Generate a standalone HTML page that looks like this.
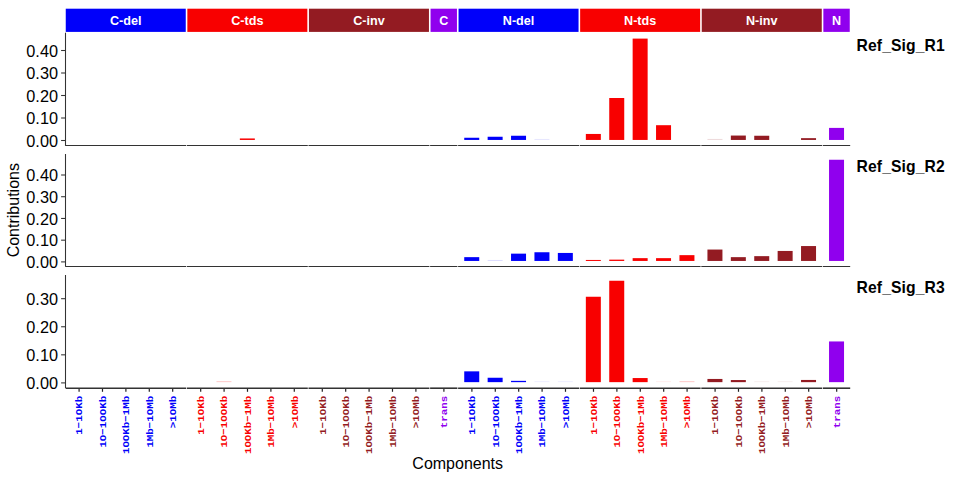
<!DOCTYPE html><html><head><meta charset="utf-8"><style>html,body{margin:0;padding:0;background:#fff;}svg{display:block}</style></head><body>
<svg width="960" height="480" viewBox="0 0 960 480">
<rect x="0" y="0" width="960" height="480" fill="#fff"/>
<rect x="65.75" y="8.7" width="120.00" height="23.2" fill="#0000FA"/>
<text x="0" y="0" transform="translate(125.75 25.05) scale(0.94 1)" fill="#fff" font-family="Liberation Sans" font-weight="bold" font-size="13.4" text-anchor="middle">C-del</text>
<rect x="187.35" y="8.7" width="120.00" height="23.2" fill="#F80000"/>
<text x="0" y="0" transform="translate(247.35 25.05) scale(0.94 1)" fill="#fff" font-family="Liberation Sans" font-weight="bold" font-size="13.4" text-anchor="middle">C-tds</text>
<rect x="308.95" y="8.7" width="120.00" height="23.2" fill="#931B22"/>
<text x="0" y="0" transform="translate(368.95 25.05) scale(0.94 1)" fill="#fff" font-family="Liberation Sans" font-weight="bold" font-size="13.4" text-anchor="middle">C-inv</text>
<rect x="430.55" y="8.7" width="26.40" height="23.2" fill="#9000EE"/>
<text x="0" y="0" transform="translate(443.75 25.05) scale(0.94 1)" fill="#fff" font-family="Liberation Sans" font-weight="bold" font-size="13.4" text-anchor="middle">C</text>
<rect x="458.55" y="8.7" width="120.00" height="23.2" fill="#0000FA"/>
<text x="0" y="0" transform="translate(518.55 25.05) scale(0.94 1)" fill="#fff" font-family="Liberation Sans" font-weight="bold" font-size="13.4" text-anchor="middle">N-del</text>
<rect x="580.15" y="8.7" width="120.00" height="23.2" fill="#F80000"/>
<text x="0" y="0" transform="translate(640.15 25.05) scale(0.94 1)" fill="#fff" font-family="Liberation Sans" font-weight="bold" font-size="13.4" text-anchor="middle">N-tds</text>
<rect x="701.75" y="8.7" width="120.00" height="23.2" fill="#931B22"/>
<text x="0" y="0" transform="translate(761.75 25.05) scale(0.94 1)" fill="#fff" font-family="Liberation Sans" font-weight="bold" font-size="13.4" text-anchor="middle">N-inv</text>
<rect x="823.35" y="8.7" width="26.40" height="23.2" fill="#9000EE"/>
<text x="0" y="0" transform="translate(836.55 25.05) scale(0.94 1)" fill="#fff" font-family="Liberation Sans" font-weight="bold" font-size="13.4" text-anchor="middle">N</text>
<rect x="239.84" y="138.45" width="15.0" height="1.50" fill="#F80000" fill-opacity="1.00"/>
<rect x="464.24" y="137.75" width="15.0" height="2.20" fill="#0000FA" fill-opacity="1.00"/>
<rect x="487.64" y="136.75" width="15.0" height="3.20" fill="#0000FA" fill-opacity="1.00"/>
<rect x="511.04" y="135.75" width="15.0" height="4.20" fill="#0000FA" fill-opacity="1.00"/>
<rect x="534.44" y="138.95" width="15.0" height="1.00" fill="#0000FA" fill-opacity="0.10"/>
<rect x="585.84" y="133.95" width="15.0" height="6.00" fill="#F80000" fill-opacity="1.00"/>
<rect x="609.24" y="98.00" width="15.0" height="41.95" fill="#F80000" fill-opacity="1.00"/>
<rect x="632.64" y="38.60" width="15.0" height="101.35" fill="#F80000" fill-opacity="1.00"/>
<rect x="656.04" y="125.20" width="15.0" height="14.75" fill="#F80000" fill-opacity="1.00"/>
<rect x="707.44" y="138.95" width="15.0" height="1.00" fill="#931B22" fill-opacity="0.17"/>
<rect x="730.84" y="135.55" width="15.0" height="4.40" fill="#931B22" fill-opacity="1.00"/>
<rect x="754.24" y="135.75" width="15.0" height="4.20" fill="#931B22" fill-opacity="1.00"/>
<rect x="801.04" y="138.15" width="15.0" height="1.80" fill="#931B22" fill-opacity="1.00"/>
<rect x="829.04" y="127.90" width="15.0" height="12.05" fill="#9000EE" fill-opacity="1.00"/>
<line x1="65.60" y1="145.50" x2="186.20" y2="145.50" stroke="#333" stroke-width="1.0"/>
<line x1="186.90" y1="145.50" x2="307.80" y2="145.50" stroke="#333" stroke-width="1.0"/>
<line x1="308.50" y1="145.50" x2="429.40" y2="145.50" stroke="#333" stroke-width="1.0"/>
<line x1="430.10" y1="145.50" x2="457.40" y2="145.50" stroke="#333" stroke-width="1.0"/>
<line x1="458.10" y1="145.50" x2="579.00" y2="145.50" stroke="#333" stroke-width="1.0"/>
<line x1="579.70" y1="145.50" x2="700.60" y2="145.50" stroke="#333" stroke-width="1.0"/>
<line x1="701.30" y1="145.50" x2="822.20" y2="145.50" stroke="#333" stroke-width="1.0"/>
<line x1="822.90" y1="145.50" x2="850.20" y2="145.50" stroke="#333" stroke-width="1.0"/>
<line x1="65.5" y1="32.70" x2="65.5" y2="145.90" stroke="#333" stroke-width="1.07"/>
<line x1="61.1" y1="140.50" x2="65.5" y2="140.50" stroke="#333" stroke-width="1.07"/>
<text x="58" y="146.80" fill="#000" font-family="Liberation Sans" font-size="16.3" text-anchor="end">0.00</text>
<line x1="61.1" y1="118.00" x2="65.5" y2="118.00" stroke="#333" stroke-width="1.07"/>
<text x="58" y="124.30" fill="#000" font-family="Liberation Sans" font-size="16.3" text-anchor="end">0.10</text>
<line x1="61.1" y1="95.50" x2="65.5" y2="95.50" stroke="#333" stroke-width="1.07"/>
<text x="58" y="101.80" fill="#000" font-family="Liberation Sans" font-size="16.3" text-anchor="end">0.20</text>
<line x1="61.1" y1="73.00" x2="65.5" y2="73.00" stroke="#333" stroke-width="1.07"/>
<text x="58" y="79.30" fill="#000" font-family="Liberation Sans" font-size="16.3" text-anchor="end">0.30</text>
<line x1="61.1" y1="50.50" x2="65.5" y2="50.50" stroke="#333" stroke-width="1.07"/>
<text x="58" y="56.80" fill="#000" font-family="Liberation Sans" font-size="16.3" text-anchor="end">0.40</text>
<text x="856.6" y="50.90" fill="#000" font-family="Liberation Sans" font-weight="bold" font-size="15.7" letter-spacing="0.1">Ref_Sig_R1</text>
<rect x="464.24" y="257.15" width="15.0" height="3.80" fill="#0000FA" fill-opacity="1.00"/>
<rect x="487.64" y="259.95" width="15.0" height="1.00" fill="#0000FA" fill-opacity="0.14"/>
<rect x="511.04" y="253.65" width="15.0" height="7.30" fill="#0000FA" fill-opacity="1.00"/>
<rect x="534.44" y="252.25" width="15.0" height="8.70" fill="#0000FA" fill-opacity="1.00"/>
<rect x="557.84" y="252.95" width="15.0" height="8.00" fill="#0000FA" fill-opacity="1.00"/>
<rect x="585.84" y="259.95" width="15.0" height="1.00" fill="#F80000" fill-opacity="1.00"/>
<rect x="609.24" y="259.65" width="15.0" height="1.30" fill="#F80000" fill-opacity="1.00"/>
<rect x="632.64" y="258.15" width="15.0" height="2.80" fill="#F80000" fill-opacity="1.00"/>
<rect x="656.04" y="258.15" width="15.0" height="2.80" fill="#F80000" fill-opacity="1.00"/>
<rect x="679.44" y="255.15" width="15.0" height="5.80" fill="#F80000" fill-opacity="1.00"/>
<rect x="707.44" y="249.55" width="15.0" height="11.40" fill="#931B22" fill-opacity="1.00"/>
<rect x="730.84" y="257.15" width="15.0" height="3.80" fill="#931B22" fill-opacity="1.00"/>
<rect x="754.24" y="256.15" width="15.0" height="4.80" fill="#931B22" fill-opacity="1.00"/>
<rect x="777.64" y="250.95" width="15.0" height="10.00" fill="#931B22" fill-opacity="1.00"/>
<rect x="801.04" y="246.05" width="15.0" height="14.90" fill="#931B22" fill-opacity="1.00"/>
<rect x="829.04" y="159.75" width="15.0" height="101.20" fill="#9000EE" fill-opacity="1.00"/>
<line x1="65.60" y1="266.50" x2="186.20" y2="266.50" stroke="#333" stroke-width="1.0"/>
<line x1="186.90" y1="266.50" x2="307.80" y2="266.50" stroke="#333" stroke-width="1.0"/>
<line x1="308.50" y1="266.50" x2="429.40" y2="266.50" stroke="#333" stroke-width="1.0"/>
<line x1="430.10" y1="266.50" x2="457.40" y2="266.50" stroke="#333" stroke-width="1.0"/>
<line x1="458.10" y1="266.50" x2="579.00" y2="266.50" stroke="#333" stroke-width="1.0"/>
<line x1="579.70" y1="266.50" x2="700.60" y2="266.50" stroke="#333" stroke-width="1.0"/>
<line x1="701.30" y1="266.50" x2="822.20" y2="266.50" stroke="#333" stroke-width="1.0"/>
<line x1="822.90" y1="266.50" x2="850.20" y2="266.50" stroke="#333" stroke-width="1.0"/>
<line x1="65.5" y1="154.00" x2="65.5" y2="266.80" stroke="#333" stroke-width="1.07"/>
<line x1="61.1" y1="261.90" x2="65.5" y2="261.90" stroke="#333" stroke-width="1.07"/>
<text x="58" y="268.20" fill="#000" font-family="Liberation Sans" font-size="16.3" text-anchor="end">0.00</text>
<line x1="61.1" y1="240.17" x2="65.5" y2="240.17" stroke="#333" stroke-width="1.07"/>
<text x="58" y="246.47" fill="#000" font-family="Liberation Sans" font-size="16.3" text-anchor="end">0.10</text>
<line x1="61.1" y1="218.45" x2="65.5" y2="218.45" stroke="#333" stroke-width="1.07"/>
<text x="58" y="224.75" fill="#000" font-family="Liberation Sans" font-size="16.3" text-anchor="end">0.20</text>
<line x1="61.1" y1="196.72" x2="65.5" y2="196.72" stroke="#333" stroke-width="1.07"/>
<text x="58" y="203.02" fill="#000" font-family="Liberation Sans" font-size="16.3" text-anchor="end">0.30</text>
<line x1="61.1" y1="175.00" x2="65.5" y2="175.00" stroke="#333" stroke-width="1.07"/>
<text x="58" y="181.30" fill="#000" font-family="Liberation Sans" font-size="16.3" text-anchor="end">0.40</text>
<text x="856.6" y="171.80" fill="#000" font-family="Liberation Sans" font-weight="bold" font-size="15.7" letter-spacing="0.1">Ref_Sig_R2</text>
<rect x="216.44" y="381.15" width="15.0" height="1.00" fill="#F80000" fill-opacity="0.21"/>
<rect x="464.24" y="371.35" width="15.0" height="10.80" fill="#0000FA" fill-opacity="1.00"/>
<rect x="487.64" y="377.75" width="15.0" height="4.40" fill="#0000FA" fill-opacity="1.00"/>
<rect x="511.04" y="380.85" width="15.0" height="1.30" fill="#0000FA" fill-opacity="1.00"/>
<rect x="534.44" y="381.15" width="15.0" height="1.00" fill="#0000FA" fill-opacity="0.07"/>
<rect x="557.84" y="381.15" width="15.0" height="1.00" fill="#0000FA" fill-opacity="0.07"/>
<rect x="585.84" y="296.75" width="15.0" height="85.40" fill="#F80000" fill-opacity="1.00"/>
<rect x="609.24" y="280.75" width="15.0" height="101.40" fill="#F80000" fill-opacity="1.00"/>
<rect x="632.64" y="378.05" width="15.0" height="4.10" fill="#F80000" fill-opacity="1.00"/>
<rect x="656.04" y="381.15" width="15.0" height="1.00" fill="#F80000" fill-opacity="0.07"/>
<rect x="679.44" y="381.15" width="15.0" height="1.00" fill="#F80000" fill-opacity="0.21"/>
<rect x="707.44" y="378.95" width="15.0" height="3.20" fill="#931B22" fill-opacity="1.00"/>
<rect x="730.84" y="380.05" width="15.0" height="2.10" fill="#931B22" fill-opacity="1.00"/>
<rect x="754.24" y="381.15" width="15.0" height="1.00" fill="#931B22" fill-opacity="0.07"/>
<rect x="777.64" y="381.15" width="15.0" height="1.00" fill="#931B22" fill-opacity="0.07"/>
<rect x="801.04" y="379.95" width="15.0" height="2.20" fill="#931B22" fill-opacity="1.00"/>
<rect x="829.04" y="341.45" width="15.0" height="40.70" fill="#9000EE" fill-opacity="1.00"/>
<line x1="65.60" y1="388.20" x2="186.20" y2="388.20" stroke="#333" stroke-width="1.6"/>
<line x1="186.90" y1="388.20" x2="307.80" y2="388.20" stroke="#333" stroke-width="1.6"/>
<line x1="308.50" y1="388.20" x2="429.40" y2="388.20" stroke="#333" stroke-width="1.6"/>
<line x1="430.10" y1="388.20" x2="457.40" y2="388.20" stroke="#333" stroke-width="1.6"/>
<line x1="458.10" y1="388.20" x2="579.00" y2="388.20" stroke="#333" stroke-width="1.6"/>
<line x1="579.70" y1="388.20" x2="700.60" y2="388.20" stroke="#333" stroke-width="1.6"/>
<line x1="701.30" y1="388.20" x2="822.20" y2="388.20" stroke="#333" stroke-width="1.6"/>
<line x1="822.90" y1="388.20" x2="850.20" y2="388.20" stroke="#333" stroke-width="1.6"/>
<line x1="65.5" y1="275.00" x2="65.5" y2="388.00" stroke="#333" stroke-width="1.07"/>
<line x1="61.1" y1="382.90" x2="65.5" y2="382.90" stroke="#333" stroke-width="1.07"/>
<text x="58" y="389.20" fill="#000" font-family="Liberation Sans" font-size="16.3" text-anchor="end">0.00</text>
<line x1="61.1" y1="354.83" x2="65.5" y2="354.83" stroke="#333" stroke-width="1.07"/>
<text x="58" y="361.13" fill="#000" font-family="Liberation Sans" font-size="16.3" text-anchor="end">0.10</text>
<line x1="61.1" y1="326.76" x2="65.5" y2="326.76" stroke="#333" stroke-width="1.07"/>
<text x="58" y="333.06" fill="#000" font-family="Liberation Sans" font-size="16.3" text-anchor="end">0.20</text>
<line x1="61.1" y1="298.69" x2="65.5" y2="298.69" stroke="#333" stroke-width="1.07"/>
<text x="58" y="304.99" fill="#000" font-family="Liberation Sans" font-size="16.3" text-anchor="end">0.30</text>
<text x="856.6" y="292.70" fill="#000" font-family="Liberation Sans" font-weight="bold" font-size="15.7" letter-spacing="0.1">Ref_Sig_R3</text>
<line x1="79.09" y1="388.9" x2="79.09" y2="391.8" stroke="#222" stroke-width="1.2"/>
<text x="0" y="0" transform="translate(82.34 395.8) rotate(-90) scale(1 0.9)" fill="#0000FA" font-family="Liberation Mono" font-weight="bold" font-size="10.8" text-anchor="end" stroke="#fff" stroke-width="0.0">1−1OKb</text>
<line x1="102.49" y1="388.9" x2="102.49" y2="391.8" stroke="#222" stroke-width="1.2"/>
<text x="0" y="0" transform="translate(105.74 395.8) rotate(-90) scale(1 0.9)" fill="#0000FA" font-family="Liberation Mono" font-weight="bold" font-size="10.8" text-anchor="end" stroke="#fff" stroke-width="0.0">1O−1OOKb</text>
<line x1="125.89" y1="388.9" x2="125.89" y2="391.8" stroke="#222" stroke-width="1.2"/>
<text x="0" y="0" transform="translate(129.14 395.8) rotate(-90) scale(1 0.9)" fill="#0000FA" font-family="Liberation Mono" font-weight="bold" font-size="10.8" text-anchor="end" stroke="#fff" stroke-width="0.0">1OOKb−1Mb</text>
<line x1="149.29" y1="388.9" x2="149.29" y2="391.8" stroke="#222" stroke-width="1.2"/>
<text x="0" y="0" transform="translate(152.54 395.8) rotate(-90) scale(1 0.9)" fill="#0000FA" font-family="Liberation Mono" font-weight="bold" font-size="10.8" text-anchor="end" stroke="#fff" stroke-width="0.0">1Mb−1OMb</text>
<line x1="172.69" y1="388.9" x2="172.69" y2="391.8" stroke="#222" stroke-width="1.2"/>
<text x="0" y="0" transform="translate(175.94 395.8) rotate(-90) scale(1 0.9)" fill="#0000FA" font-family="Liberation Mono" font-weight="bold" font-size="10.8" text-anchor="end" stroke="#fff" stroke-width="0.0">&gt;1OMb</text>
<line x1="200.69" y1="388.9" x2="200.69" y2="391.8" stroke="#222" stroke-width="1.2"/>
<text x="0" y="0" transform="translate(203.94 395.8) rotate(-90) scale(1 0.9)" fill="#F80000" font-family="Liberation Mono" font-weight="bold" font-size="10.8" text-anchor="end" stroke="#fff" stroke-width="0.0">1−1OKb</text>
<line x1="224.09" y1="388.9" x2="224.09" y2="391.8" stroke="#222" stroke-width="1.2"/>
<text x="0" y="0" transform="translate(227.34 395.8) rotate(-90) scale(1 0.9)" fill="#F80000" font-family="Liberation Mono" font-weight="bold" font-size="10.8" text-anchor="end" stroke="#fff" stroke-width="0.0">1O−1OOKb</text>
<line x1="247.49" y1="388.9" x2="247.49" y2="391.8" stroke="#222" stroke-width="1.2"/>
<text x="0" y="0" transform="translate(250.74 395.8) rotate(-90) scale(1 0.9)" fill="#F80000" font-family="Liberation Mono" font-weight="bold" font-size="10.8" text-anchor="end" stroke="#fff" stroke-width="0.0">1OOKb−1Mb</text>
<line x1="270.89" y1="388.9" x2="270.89" y2="391.8" stroke="#222" stroke-width="1.2"/>
<text x="0" y="0" transform="translate(274.14 395.8) rotate(-90) scale(1 0.9)" fill="#F80000" font-family="Liberation Mono" font-weight="bold" font-size="10.8" text-anchor="end" stroke="#fff" stroke-width="0.0">1Mb−1OMb</text>
<line x1="294.29" y1="388.9" x2="294.29" y2="391.8" stroke="#222" stroke-width="1.2"/>
<text x="0" y="0" transform="translate(297.54 395.8) rotate(-90) scale(1 0.9)" fill="#F80000" font-family="Liberation Mono" font-weight="bold" font-size="10.8" text-anchor="end" stroke="#fff" stroke-width="0.0">&gt;1OMb</text>
<line x1="322.29" y1="388.9" x2="322.29" y2="391.8" stroke="#222" stroke-width="1.2"/>
<text x="0" y="0" transform="translate(325.54 395.8) rotate(-90) scale(1 0.9)" fill="#931B22" font-family="Liberation Mono" font-weight="bold" font-size="10.8" text-anchor="end" stroke="#fff" stroke-width="0.0">1−1OKb</text>
<line x1="345.69" y1="388.9" x2="345.69" y2="391.8" stroke="#222" stroke-width="1.2"/>
<text x="0" y="0" transform="translate(348.94 395.8) rotate(-90) scale(1 0.9)" fill="#931B22" font-family="Liberation Mono" font-weight="bold" font-size="10.8" text-anchor="end" stroke="#fff" stroke-width="0.0">1O−1OOKb</text>
<line x1="369.09" y1="388.9" x2="369.09" y2="391.8" stroke="#222" stroke-width="1.2"/>
<text x="0" y="0" transform="translate(372.34 395.8) rotate(-90) scale(1 0.9)" fill="#931B22" font-family="Liberation Mono" font-weight="bold" font-size="10.8" text-anchor="end" stroke="#fff" stroke-width="0.0">1OOKb−1Mb</text>
<line x1="392.49" y1="388.9" x2="392.49" y2="391.8" stroke="#222" stroke-width="1.2"/>
<text x="0" y="0" transform="translate(395.74 395.8) rotate(-90) scale(1 0.9)" fill="#931B22" font-family="Liberation Mono" font-weight="bold" font-size="10.8" text-anchor="end" stroke="#fff" stroke-width="0.0">1Mb−1OMb</text>
<line x1="415.89" y1="388.9" x2="415.89" y2="391.8" stroke="#222" stroke-width="1.2"/>
<text x="0" y="0" transform="translate(419.14 395.8) rotate(-90) scale(1 0.9)" fill="#931B22" font-family="Liberation Mono" font-weight="bold" font-size="10.8" text-anchor="end" stroke="#fff" stroke-width="0.0">&gt;1OMb</text>
<line x1="443.89" y1="388.9" x2="443.89" y2="391.8" stroke="#222" stroke-width="1.2"/>
<text x="0" y="0" transform="translate(447.14 395.8) rotate(-90) scale(1 0.9)" fill="#9000EE" font-family="Liberation Mono" font-weight="bold" font-size="10.8" text-anchor="end" stroke="#fff" stroke-width="0.0">trans</text>
<line x1="471.89" y1="388.9" x2="471.89" y2="391.8" stroke="#222" stroke-width="1.2"/>
<text x="0" y="0" transform="translate(475.14 395.8) rotate(-90) scale(1 0.9)" fill="#0000FA" font-family="Liberation Mono" font-weight="bold" font-size="10.8" text-anchor="end" stroke="#fff" stroke-width="0.0">1−1OKb</text>
<line x1="495.29" y1="388.9" x2="495.29" y2="391.8" stroke="#222" stroke-width="1.2"/>
<text x="0" y="0" transform="translate(498.54 395.8) rotate(-90) scale(1 0.9)" fill="#0000FA" font-family="Liberation Mono" font-weight="bold" font-size="10.8" text-anchor="end" stroke="#fff" stroke-width="0.0">1O−1OOKb</text>
<line x1="518.69" y1="388.9" x2="518.69" y2="391.8" stroke="#222" stroke-width="1.2"/>
<text x="0" y="0" transform="translate(521.94 395.8) rotate(-90) scale(1 0.9)" fill="#0000FA" font-family="Liberation Mono" font-weight="bold" font-size="10.8" text-anchor="end" stroke="#fff" stroke-width="0.0">1OOKb−1Mb</text>
<line x1="542.09" y1="388.9" x2="542.09" y2="391.8" stroke="#222" stroke-width="1.2"/>
<text x="0" y="0" transform="translate(545.34 395.8) rotate(-90) scale(1 0.9)" fill="#0000FA" font-family="Liberation Mono" font-weight="bold" font-size="10.8" text-anchor="end" stroke="#fff" stroke-width="0.0">1Mb−1OMb</text>
<line x1="565.49" y1="388.9" x2="565.49" y2="391.8" stroke="#222" stroke-width="1.2"/>
<text x="0" y="0" transform="translate(568.74 395.8) rotate(-90) scale(1 0.9)" fill="#0000FA" font-family="Liberation Mono" font-weight="bold" font-size="10.8" text-anchor="end" stroke="#fff" stroke-width="0.0">&gt;1OMb</text>
<line x1="593.49" y1="388.9" x2="593.49" y2="391.8" stroke="#222" stroke-width="1.2"/>
<text x="0" y="0" transform="translate(596.74 395.8) rotate(-90) scale(1 0.9)" fill="#F80000" font-family="Liberation Mono" font-weight="bold" font-size="10.8" text-anchor="end" stroke="#fff" stroke-width="0.0">1−1OKb</text>
<line x1="616.89" y1="388.9" x2="616.89" y2="391.8" stroke="#222" stroke-width="1.2"/>
<text x="0" y="0" transform="translate(620.14 395.8) rotate(-90) scale(1 0.9)" fill="#F80000" font-family="Liberation Mono" font-weight="bold" font-size="10.8" text-anchor="end" stroke="#fff" stroke-width="0.0">1O−1OOKb</text>
<line x1="640.29" y1="388.9" x2="640.29" y2="391.8" stroke="#222" stroke-width="1.2"/>
<text x="0" y="0" transform="translate(643.54 395.8) rotate(-90) scale(1 0.9)" fill="#F80000" font-family="Liberation Mono" font-weight="bold" font-size="10.8" text-anchor="end" stroke="#fff" stroke-width="0.0">1OOKb−1Mb</text>
<line x1="663.69" y1="388.9" x2="663.69" y2="391.8" stroke="#222" stroke-width="1.2"/>
<text x="0" y="0" transform="translate(666.94 395.8) rotate(-90) scale(1 0.9)" fill="#F80000" font-family="Liberation Mono" font-weight="bold" font-size="10.8" text-anchor="end" stroke="#fff" stroke-width="0.0">1Mb−1OMb</text>
<line x1="687.09" y1="388.9" x2="687.09" y2="391.8" stroke="#222" stroke-width="1.2"/>
<text x="0" y="0" transform="translate(690.34 395.8) rotate(-90) scale(1 0.9)" fill="#F80000" font-family="Liberation Mono" font-weight="bold" font-size="10.8" text-anchor="end" stroke="#fff" stroke-width="0.0">&gt;1OMb</text>
<line x1="715.09" y1="388.9" x2="715.09" y2="391.8" stroke="#222" stroke-width="1.2"/>
<text x="0" y="0" transform="translate(718.34 395.8) rotate(-90) scale(1 0.9)" fill="#931B22" font-family="Liberation Mono" font-weight="bold" font-size="10.8" text-anchor="end" stroke="#fff" stroke-width="0.0">1−1OKb</text>
<line x1="738.49" y1="388.9" x2="738.49" y2="391.8" stroke="#222" stroke-width="1.2"/>
<text x="0" y="0" transform="translate(741.74 395.8) rotate(-90) scale(1 0.9)" fill="#931B22" font-family="Liberation Mono" font-weight="bold" font-size="10.8" text-anchor="end" stroke="#fff" stroke-width="0.0">1O−1OOKb</text>
<line x1="761.89" y1="388.9" x2="761.89" y2="391.8" stroke="#222" stroke-width="1.2"/>
<text x="0" y="0" transform="translate(765.14 395.8) rotate(-90) scale(1 0.9)" fill="#931B22" font-family="Liberation Mono" font-weight="bold" font-size="10.8" text-anchor="end" stroke="#fff" stroke-width="0.0">1OOKb−1Mb</text>
<line x1="785.29" y1="388.9" x2="785.29" y2="391.8" stroke="#222" stroke-width="1.2"/>
<text x="0" y="0" transform="translate(788.54 395.8) rotate(-90) scale(1 0.9)" fill="#931B22" font-family="Liberation Mono" font-weight="bold" font-size="10.8" text-anchor="end" stroke="#fff" stroke-width="0.0">1Mb−1OMb</text>
<line x1="808.69" y1="388.9" x2="808.69" y2="391.8" stroke="#222" stroke-width="1.2"/>
<text x="0" y="0" transform="translate(811.94 395.8) rotate(-90) scale(1 0.9)" fill="#931B22" font-family="Liberation Mono" font-weight="bold" font-size="10.8" text-anchor="end" stroke="#fff" stroke-width="0.0">&gt;1OMb</text>
<line x1="836.69" y1="388.9" x2="836.69" y2="391.8" stroke="#222" stroke-width="1.2"/>
<text x="0" y="0" transform="translate(839.94 395.8) rotate(-90) scale(1 0.9)" fill="#9000EE" font-family="Liberation Mono" font-weight="bold" font-size="10.8" text-anchor="end" stroke="#fff" stroke-width="0.0">trans</text>
<text x="457.7" y="468.5" fill="#000" font-family="Liberation Sans" font-size="16" text-anchor="middle">Components</text>
<text x="18.9" y="210.2" transform="rotate(-90 18.9 210.2)" fill="#000" font-family="Liberation Sans" font-size="16" text-anchor="middle">Contributions</text>
</svg></body></html>
